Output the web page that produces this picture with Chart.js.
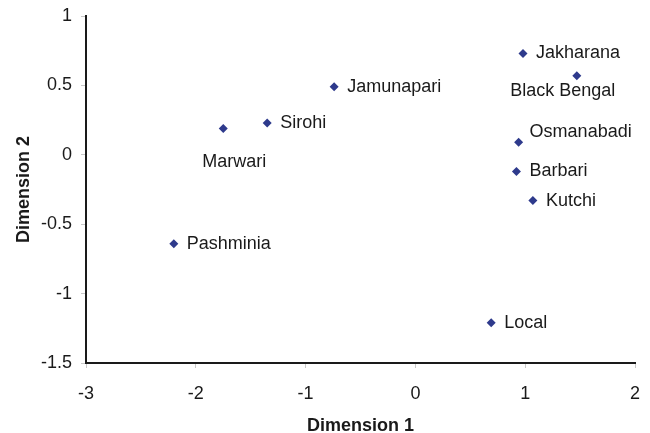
<!DOCTYPE html>
<html>
<head>
<meta charset="utf-8">
<script src="https://cdn.jsdelivr.net/npm/chart.js@4/dist/chart.umd.min.js"></script>
<style>
  html, body { margin: 0; padding: 0; background: #fff; }
  #wrap { width: 650px; height: 433px; }
</style>
</head>
<body>
<div id="wrap"><canvas id="mdsChart"></canvas></div>
<script>
// breeds and their MDS coordinates
const breeds = ["Jakharana", "Black Bengal", "Jamunapari", "Sirohi", "Marwari",
  "Osmanabadi", "Barbari", "Kutchi", "Pashminia", "Local"];
const dim1 = [0.98, 1.47, -0.74, -1.35, -1.75, 0.94, 0.92, 1.07, -2.2, 0.69];
const dim2 = [0.73, 0.57, 0.49, 0.23, 0.19, 0.09, -0.12, -0.33, -0.64, -1.21];

const FONT = "'Liberation Sans', Arial, sans-serif";

// label placement relative to the marker (style only)
const labelPlace = {
  "Black Bengal": { dx: -14, dy: 15, align: "center" },
  "Marwari": { dx: 11, dy: 34, align: "center" },
  "Osmanabadi": { dx: 11, dy: -10, align: "left" }
};

const pointLabels = {
  id: "pointLabels",
  afterDatasetsDraw(chart) {
    const ctx = chart.ctx;
    const xs = chart.scales.x, ys = chart.scales.y;
    ctx.save();
    ctx.font = "18px " + FONT;
    ctx.fillStyle = "#1a1a1a";
    ctx.textBaseline = "middle";
    breeds.forEach((name, i) => {
      const p = labelPlace[name] || { dx: 13, dy: 0, align: "left" };
      ctx.textAlign = p.align;
      ctx.fillText(name, xs.getPixelForValue(dim1[i]) + p.dx, ys.getPixelForValue(dim2[i]) + p.dy);
    });
    ctx.restore();
  }
};

const ctx = document.getElementById("mdsChart").getContext("2d");
new Chart(ctx, {
  type: "scatter",
  data: {
    datasets: [{
      data: breeds.map((b, i) => ({ x: dim1[i], y: dim2[i] })),
      pointStyle: "rectRot",
      pointRadius: 4.5,
      pointBackgroundColor: "#2e3a8c",
      pointBorderColor: "#2e3a8c",
      pointBorderWidth: 0
    }]
  },
  options: {
    responsive: true,
    maintainAspectRatio: false,
    animation: false,
    events: [],
    layout: { padding: { left: 9, right: 15, top: 16, bottom: 0 } },
    plugins: { legend: { display: false }, tooltip: { enabled: false } },
    scales: {
      x: {
        type: "linear",
        min: -3, max: 2,
        afterFit: (s) => {
          s.height = 70;
          s.paddingLeft = 0;
          s.paddingRight = 0;
        },
        ticks: { stepSize: 1, padding: 15, color: "#1a1a1a",
          font: { family: FONT, size: 18 } },
        grid: { drawOnChartArea: false, drawTicks: true, tickLength: 5, color: "#c8c8c8" },
        border: { color: "#1a1a1a", width: 2 },
        title: { display: true, text: "Dimension 1", color: "#1a1a1a",
          padding: { top: 4, bottom: -4 },
          font: { family: FONT, size: 18, weight: "bold" } }
      },
      y: {
        type: "linear",
        min: -1.5, max: 1,
        afterFit: (s) => {
          s.width = 77;
          s.paddingTop = 0;
          s.paddingBottom = 0;
        },
        ticks: { stepSize: 0.5, padding: 9, color: "#1a1a1a",
          font: { family: FONT, size: 18 },
          callback: (v) => String(v) },
        grid: { drawOnChartArea: false, drawTicks: true, tickLength: 5, color: "#c8c8c8" },
        border: { color: "#1a1a1a", width: 2 },
        title: { display: true, text: "Dimension 2", color: "#1a1a1a",
          font: { family: FONT, size: 18, weight: "bold" } }
      }
    }
  },
  plugins: [pointLabels]
});
</script>
</body>
</html>
